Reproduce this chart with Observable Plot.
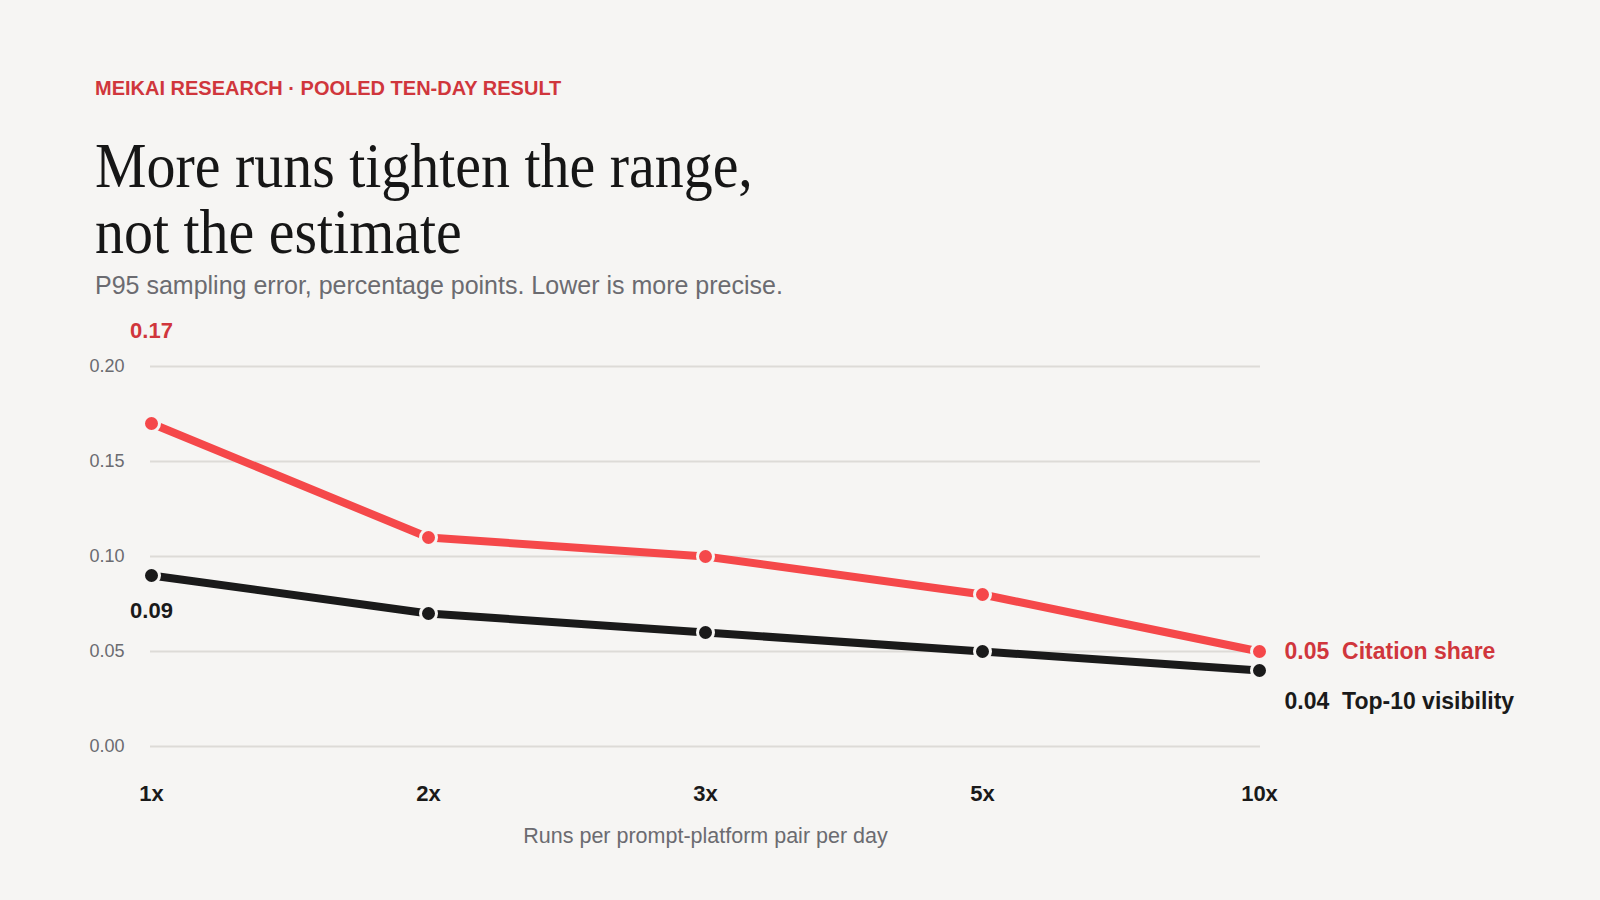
<!DOCTYPE html>
<html><head><meta charset="utf-8">
<script src="https://cdn.jsdelivr.net/npm/d3@7"></script>
<script src="https://cdn.jsdelivr.net/npm/@observablehq/plot@0.6"></script>
<style>
html,body{margin:0;padding:0;background:#f6f5f3;}
#page{position:relative;width:1600px;height:900px;overflow:hidden;background:#f6f5f3;font-family:"Liberation Sans",Arial,sans-serif;}
.kicker{position:absolute;left:95px;top:78px;font-size:20px;line-height:20px;font-weight:700;color:#d0363c;white-space:nowrap;}
.title{position:absolute;left:95px;top:133px;font-family:"Liberation Serif","Times New Roman",serif;font-size:64px;line-height:66px;color:#161616;transform:scaleX(0.905);transform-origin:0 0;white-space:nowrap;}
.sub{position:absolute;left:95px;top:273px;font-size:25px;line-height:25px;color:#6b6b70;white-space:nowrap;}
#chart{position:absolute;left:0;top:310px;}
</style></head>
<body>
<div id="page">
  <div class="kicker">MEIKAI RESEARCH · POOLED TEN-DAY RESULT</div>
  <div class="title">More runs tighten the range,<br>not the estimate</div>
  <div class="sub">P95 sampling error, percentage points. Lower is more precise.</div>
  <div id="chart"></div>
</div>
<script>
const runs = ["1x", "2x", "3x", "5x", "10x"];
const seriesNames = ["Citation share", "Top-10 visibility"];
const citationShare = [0.17, 0.11, 0.10, 0.08, 0.05];
const top10Visibility = [0.09, 0.07, 0.06, 0.05, 0.04];
const yTicks = [0, 0.05, 0.10, 0.15, 0.20];
const xTitle = "Runs per prompt-platform pair per day";

const bg = "#f6f5f3";
const lineColors = ["#f5484a", "#1a1a1a"];
const labelColors = ["#d0363c", "#1a1a1a"];
const fmt = d3.format(".2f");

const rows = [];
[citationShare, top10Visibility].forEach((vals, i) => {
  vals.forEach((v, j) => rows.push({series: seriesNames[i], run: runs[j], value: v}));
});
const first = (s) => rows.filter(d => d.series === s && d.run === runs[0]);
const last = (s) => rows.filter(d => d.series === s && d.run === runs[runs.length - 1]);

const font = "'Liberation Sans', Arial, sans-serif";
const chart = Plot.plot({
  width: 1600, height: 560,
  marginTop: 56, marginBottom: 124, marginLeft: 150, marginRight: 340,
  style: {background: "transparent", fontFamily: font, overflow: "visible"},
  x: {type: "point", domain: runs, padding: 0},
  y: {domain: [0, 0.2]},
  color: {domain: seriesNames, range: lineColors},
  marks: [
    Plot.gridY(yTicks, {stroke: "#dddbd7", strokeOpacity: 1, strokeWidth: 2}),
    Plot.axisY(yTicks, {tickSize: 0, tickPadding: 26, tickFormat: fmt, fontSize: 18, color: "#6b6b70", label: null}),
    Plot.axisX({tickSize: 0, tickPadding: 39, fontSize: 22, fontWeight: "bold", color: "#1a1a1a", label: null}),
    Plot.text([xTitle], {frameAnchor: "bottom", dy: 90, fontSize: 21.5, fill: "#6b6b70", lineAnchor: "middle"}),
    Plot.line(rows, {x: "run", y: "value", z: "series", stroke: "series", strokeWidth: 8}),
    Plot.dot(rows, {x: "run", y: "value", fill: "series", r: 8, stroke: bg, strokeWidth: 3}),
    Plot.text(first(seriesNames[0]), {x: "run", y: "value", text: d => fmt(d.value), dy: -93, fill: labelColors[0], fontSize: 22, fontWeight: "bold"}),
    Plot.text(first(seriesNames[1]), {x: "run", y: "value", text: d => fmt(d.value), dy: 35, fill: labelColors[1], fontSize: 22, fontWeight: "bold"}),
    Plot.text(last(seriesNames[0]), {x: "run", y: "value", text: d => fmt(d.value) + "\u00a0\u00a0" + d.series, dx: 25, textAnchor: "start", fill: labelColors[0], fontSize: 23, fontWeight: "bold"}),
    Plot.text(last(seriesNames[1]), {x: "run", y: "value", text: d => fmt(d.value) + "\u00a0\u00a0" + d.series, dx: 25, dy: 31, textAnchor: "start", fill: labelColors[1], fontSize: 23, fontWeight: "bold"})
  ]
});
document.getElementById("chart").appendChild(chart);
</script>
</body></html>
